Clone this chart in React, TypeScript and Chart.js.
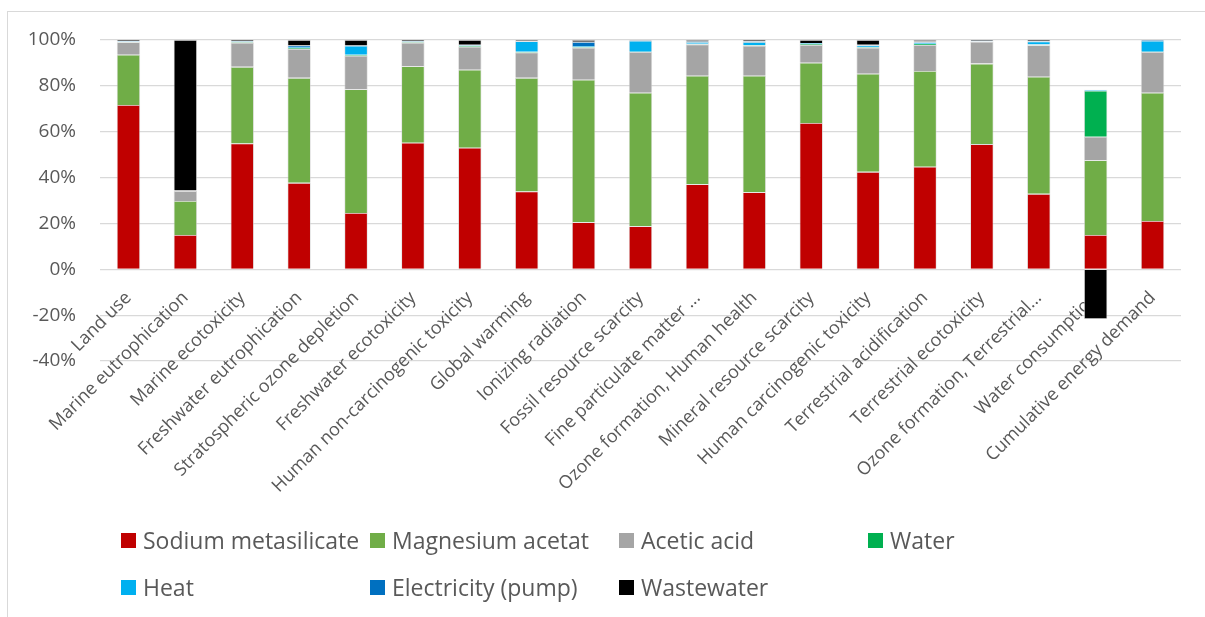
import React, { useEffect, useRef } from "react";
import { Chart, registerables } from "chart.js";

Chart.register(...registerables);

const categories = [
  "Land use",
  "Marine eutrophication",
  "Marine ecotoxicity",
  "Freshwater eutrophication",
  "Stratospheric ozone depletion",
  "Freshwater ecotoxicity",
  "Human non-carcinogenic toxicity",
  "Global warming",
  "Ionizing radiation",
  "Fossil resource scarcity",
  "Fine particulate matter ...",
  "Ozone formation, Human health",
  "Mineral resource scarcity",
  "Human carcinogenic toxicity",
  "Terrestrial acidification",
  "Terrestrial ecotoxicity",
  "Ozone formation, Terrestrial...",
  "Water consumption",
  "Cumulative energy demand",
];

const sodiumMetasilicate = [71.7, 15.0, 54.9, 37.7, 24.6, 55.2, 53.0, 33.9, 20.5, 18.8, 37.1, 33.6, 63.8, 42.5, 44.7, 54.6, 32.9, 15.0, 21.1];
const magnesiumAcetat = [21.9, 14.8, 33.4, 45.8, 53.9, 33.4, 34.0, 49.6, 62.2, 58.2, 47.3, 50.8, 26.3, 42.8, 41.8, 35.1, 51.1, 32.6, 55.9];
const aceticAcid = [5.4, 4.3, 10.5, 12.6, 14.6, 10.2, 10.1, 11.1, 13.9, 17.8, 13.7, 13.1, 7.7, 11.3, 11.3, 9.6, 13.7, 10.2, 17.8];
const water = [0.2, 0.1, 0.3, 0.4, 0.5, 0.3, 0.4, 0.3, 0.3, 0.1, 0.3, 0.2, 0.5, 0.3, 0.6, 0.2, 0.3, 20.1, 0.1];
const heat = [0.3, 0.2, 0.3, 0.4, 3.9, 0.3, 0.3, 4.6, 0.5, 4.8, 0.7, 1.5, 0.3, 0.7, 0.5, 0.1, 1.4, 0.4, 4.8];
const electricityPump = [0.1, 0.0, 0.1, 0.7, 0.1, 0.1, 0.1, 0.2, 1.8, 0.2, 0.3, 0.3, 0.1, 0.3, 0.4, 0.1, 0.2, 0.0, 0.3];
const wastewater = [0.4, 65.6, 0.5, 2.4, 2.4, 0.5, 2.1, 0.3, 0.8, 0.1, 0.6, 0.5, 1.3, 2.1, 0.7, 0.3, 0.4, -21.7, 0.0];

const seriesNames = [
  "Sodium metasilicate",
  "Magnesium acetat",
  "Acetic acid",
  "Water",
  "Heat",
  "Electricity (pump)",
  "Wastewater",
];
const seriesColors = ["#C00000", "#70AD47", "#A5A5A5", "#00B050", "#00B0F0", "#0070C0", "#000000"];

const yMin = -40;
const yMax = 100;
const yStep = 20;

const FONT = "'Open Sans', 'DejaVu Sans', sans-serif";
const TEXT = "#595959";

export default function App() {
  const ref = useRef<HTMLCanvasElement>(null);

  useEffect(() => {
    const series = [sodiumMetasilicate, magnesiumAcetat, aceticAcid, water, heat, electricityPump, wastewater];
    const chart = new Chart(ref.current as HTMLCanvasElement, {
      type: "bar",
      data: {
        labels: categories,
        datasets: series.map((d, i) => ({
          label: seriesNames[i],
          data: d,
          backgroundColor: seriesColors[i],
          borderColor: "rgba(210,210,210,0.8)",
          borderWidth: 0.8,
          barPercentage: 0.41,
          categoryPercentage: 1,
        })),
      },
      options: {
        animation: false,
        responsive: false,
        maintainAspectRatio: false,
        layout: { padding: { top: 40, right: 24, bottom: 256, left: 0 } },
        plugins: { legend: { display: false }, tooltip: { enabled: false } },
        scales: {
          x: {
            stacked: true,
            position: { y: 0 } as any,
            z: 1,
            grid: { display: false, drawTicks: false },
            border: { display: false },
            ticks: {
              autoSkip: false,
              maxRotation: 45,
              minRotation: 45,
              padding: 18,
              color: TEXT,
              font: { family: FONT, size: 18 },
            },
            afterFit: (s: any) => {
              s.height = 0;
            },
          },
          y: {
            stacked: true,
            min: yMin,
            max: yMax,
            ticks: {
              stepSize: yStep,
              callback: (v: any) => v + "%",
              padding: 24,
              color: TEXT,
              font: { family: FONT, size: 19 },
            },
            grid: { color: "#d9d9d9", lineWidth: 1.2, drawTicks: false },
            border: { display: false },
            afterFit: (s: any) => {
              s.width = 100;
            },
          },
        },
      },
    });
    return () => chart.destroy();
  }, []);

  return (
    <div
      style={{
        position: "fixed",
        left: 0,
        top: 0,
        width: 1205,
        height: 617,
        background: "#fff",
        overflow: "hidden",
      }}
    >
      <div
        style={{
          position: "absolute",
          left: 7,
          top: 11,
          width: 1400,
          height: 800,
          borderLeft: "1px solid #d9d9d9",
          borderTop: "1px solid #d9d9d9",
        }}
      />
      <canvas ref={ref} width={1205} height={617} style={{ position: "absolute", left: 0, top: 0, width: 1205, height: 617 }} />
      {seriesNames.map((name, i) => {
        const col = i < 4 ? i : i - 4;
        const row = i < 4 ? 0 : 1;
        return (
          <div
            key={name}
            style={{
              position: "absolute",
              left: 121 + col * 249,
              top: 540 + row * 47 - 15,
              height: 30,
              display: "flex",
              alignItems: "center",
              whiteSpace: "nowrap",
              fontFamily: FONT,
              fontSize: 23,
              color: TEXT,
            }}
          >
            <span style={{ display: "inline-block", width: 15, height: 15, background: seriesColors[i], marginRight: 7 }} />
            <span>{name}</span>
          </div>
        );
      })}
    </div>
  );
}
